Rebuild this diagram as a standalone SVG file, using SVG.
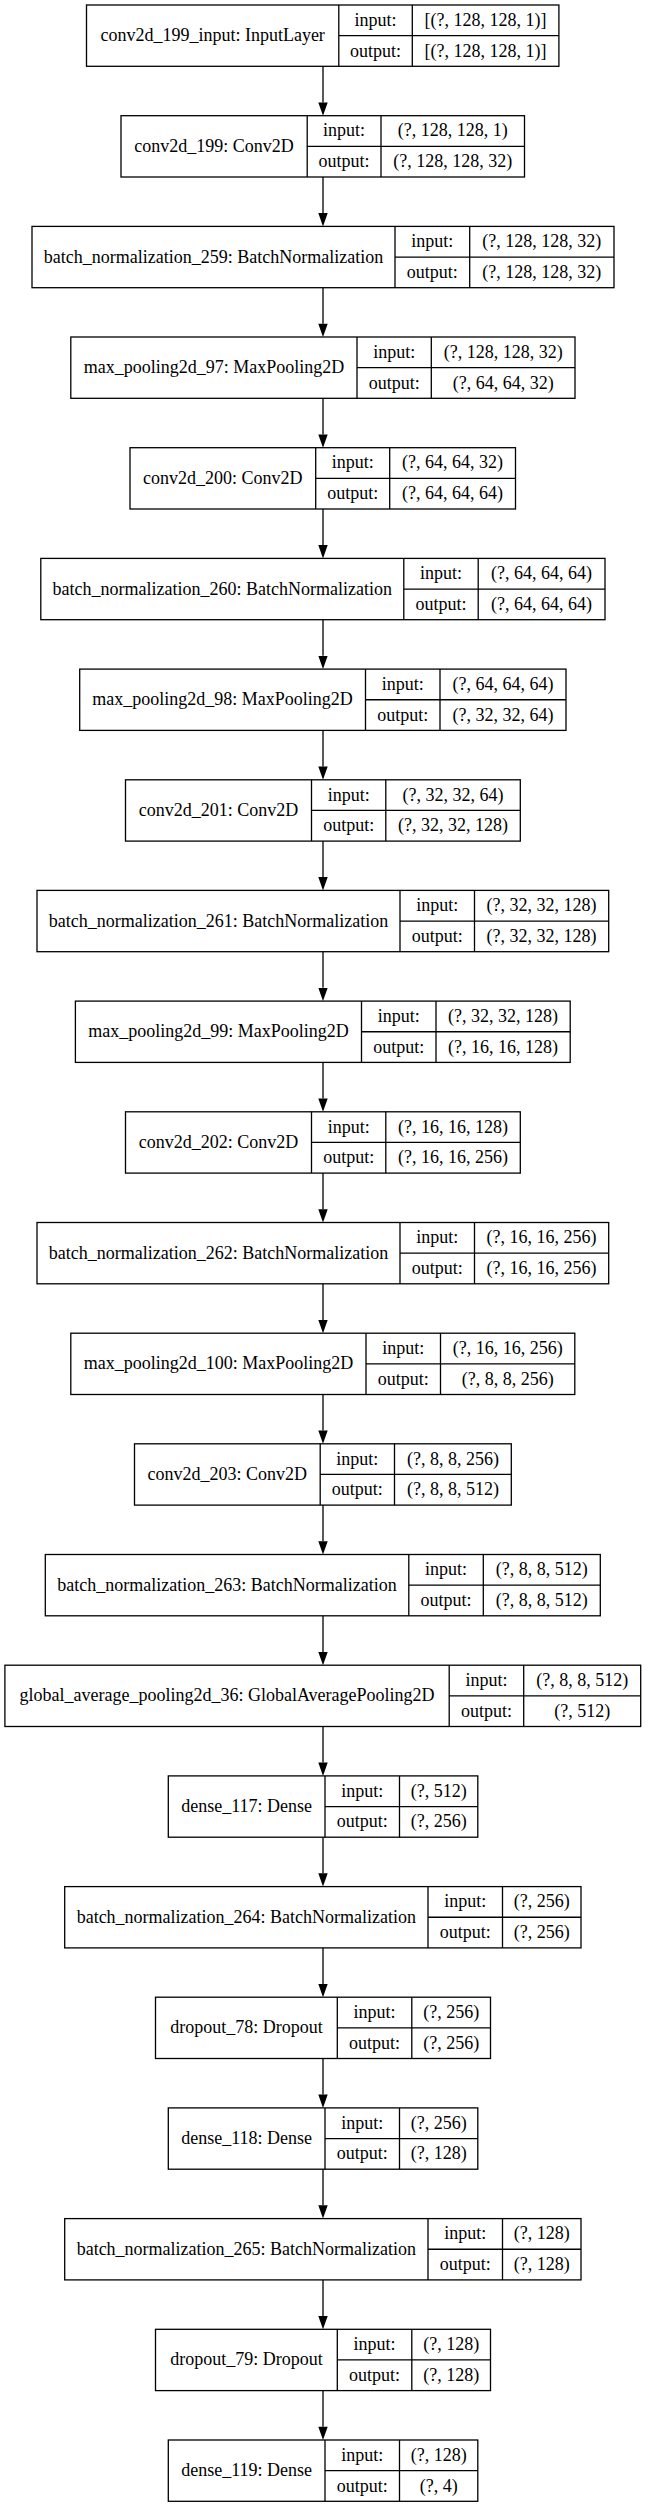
<svg xmlns="http://www.w3.org/2000/svg" width="648" height="2508" viewBox="0 0 648 2508">
<style>
.b{fill:#fff;stroke:#000;stroke-width:1.3}
.d{stroke:#000;stroke-width:1.3;fill:none}
text{font-family:"Liberation Serif","Times New Roman",serif;font-size:18px;fill:#000;text-anchor:middle}
.e{stroke:#000;stroke-width:1.3;fill:none;marker-end:url(#ah)}
</style>
<defs>
<marker id="ah" markerUnits="userSpaceOnUse" markerWidth="14" markerHeight="10" viewBox="0 0 13.5 10" refX="0" refY="5" orient="auto"><path d="M0,0.3 L13.3,5 L0,9.7 Z" fill="#000"/></marker>
</defs>
<rect width="648" height="2508" fill="#fff"/>
<g id="edges">
<line class="e" x1="323" y1="66.3" x2="323" y2="102.4"/>
<line class="e" x1="323" y1="177.0" x2="323" y2="213.1"/>
<line class="e" x1="323" y1="287.7" x2="323" y2="323.7"/>
<line class="e" x1="323" y1="398.3" x2="323" y2="434.4"/>
<line class="e" x1="323" y1="509.0" x2="323" y2="545.1"/>
<line class="e" x1="323" y1="619.7" x2="323" y2="655.8"/>
<line class="e" x1="323" y1="730.4" x2="323" y2="766.5"/>
<line class="e" x1="323" y1="841.1" x2="323" y2="877.1"/>
<line class="e" x1="323" y1="951.7" x2="323" y2="987.8"/>
<line class="e" x1="323" y1="1062.4" x2="323" y2="1098.5"/>
<line class="e" x1="323" y1="1173.1" x2="323" y2="1209.2"/>
<line class="e" x1="323" y1="1283.8" x2="323" y2="1319.9"/>
<line class="e" x1="323" y1="1394.5" x2="323" y2="1430.5"/>
<line class="e" x1="323" y1="1505.1" x2="323" y2="1541.2"/>
<line class="e" x1="323" y1="1615.8" x2="323" y2="1651.9"/>
<line class="e" x1="323" y1="1726.5" x2="323" y2="1762.6"/>
<line class="e" x1="323" y1="1837.2" x2="323" y2="1873.3"/>
<line class="e" x1="323" y1="1947.9" x2="323" y2="1983.9"/>
<line class="e" x1="323" y1="2058.5" x2="323" y2="2094.6"/>
<line class="e" x1="323" y1="2169.2" x2="323" y2="2205.3"/>
<line class="e" x1="323" y1="2279.9" x2="323" y2="2316.0"/>
<line class="e" x1="323" y1="2390.6" x2="323" y2="2426.7"/>
</g>
<g id="conv2d_199_input" transform="translate(0,5.0)">
<rect class="b" x="86.5" y="0" width="472.4" height="61.3"/>
<path class="d" d="M338.8,0V61.3M412.3,0V61.3M338.8,30.65H558.9"/>
<text x="212.65" y="36.15">conv2d_199_input: InputLayer</text>
<text x="375.55" y="20.8">input:</text><text x="375.55" y="51.5">output:</text>
<text x="485.6" y="20.8">[(?, 128, 128, 1)]</text><text x="485.6" y="51.5">[(?, 128, 128, 1)]</text>
</g>
<g id="conv2d_199" transform="translate(0,115.7)">
<rect class="b" x="121" y="0" width="403.5" height="61.3"/>
<path class="d" d="M307.2,0V61.3M381,0V61.3M307.2,30.65H524.5"/>
<text x="214.1" y="36.15">conv2d_199: Conv2D</text>
<text x="344.1" y="20.8">input:</text><text x="344.1" y="51.5">output:</text>
<text x="452.75" y="20.8">(?, 128, 128, 1)</text><text x="452.75" y="51.5">(?, 128, 128, 32)</text>
</g>
<g id="batch_normalization_259" transform="translate(0,226.4)">
<rect class="b" x="32" y="0" width="582" height="61.3"/>
<path class="d" d="M395,0V61.3M469.7,0V61.3M395,30.65H614"/>
<text x="213.5" y="36.15">batch_normalization_259: BatchNormalization</text>
<text x="432.35" y="20.8">input:</text><text x="432.35" y="51.5">output:</text>
<text x="541.85" y="20.8">(?, 128, 128, 32)</text><text x="541.85" y="51.5">(?, 128, 128, 32)</text>
</g>
<g id="max_pooling2d_97" transform="translate(0,337.0)">
<rect class="b" x="70.8" y="0" width="504.2" height="61.3"/>
<path class="d" d="M357,0V61.3M431.3,0V61.3M357,30.65H575"/>
<text x="213.9" y="36.15">max_pooling2d_97: MaxPooling2D</text>
<text x="394.15" y="20.8">input:</text><text x="394.15" y="51.5">output:</text>
<text x="503.15" y="20.8">(?, 128, 128, 32)</text><text x="503.15" y="51.5">(?, 64, 64, 32)</text>
</g>
<g id="conv2d_200" transform="translate(0,447.7)">
<rect class="b" x="130" y="0" width="385.5" height="61.3"/>
<path class="d" d="M315.7,0V61.3M389.7,0V61.3M315.7,30.65H515.5"/>
<text x="222.85" y="36.15">conv2d_200: Conv2D</text>
<text x="352.7" y="20.8">input:</text><text x="352.7" y="51.5">output:</text>
<text x="452.6" y="20.8">(?, 64, 64, 32)</text><text x="452.6" y="51.5">(?, 64, 64, 64)</text>
</g>
<g id="batch_normalization_260" transform="translate(0,558.4)">
<rect class="b" x="40.8" y="0" width="564.2" height="61.3"/>
<path class="d" d="M403.8,0V61.3M478.2,0V61.3M403.8,30.65H605"/>
<text x="222.3" y="36.15">batch_normalization_260: BatchNormalization</text>
<text x="441" y="20.8">input:</text><text x="441" y="51.5">output:</text>
<text x="541.6" y="20.8">(?, 64, 64, 64)</text><text x="541.6" y="51.5">(?, 64, 64, 64)</text>
</g>
<g id="max_pooling2d_98" transform="translate(0,669.1)">
<rect class="b" x="79.7" y="0" width="486.3" height="61.3"/>
<path class="d" d="M365.5,0V61.3M440,0V61.3M365.5,30.65H566"/>
<text x="222.6" y="36.15">max_pooling2d_98: MaxPooling2D</text>
<text x="402.75" y="20.8">input:</text><text x="402.75" y="51.5">output:</text>
<text x="503" y="20.8">(?, 64, 64, 64)</text><text x="503" y="51.5">(?, 32, 32, 64)</text>
</g>
<g id="conv2d_201" transform="translate(0,779.8)">
<rect class="b" x="125.5" y="0" width="394.8" height="61.3"/>
<path class="d" d="M311.5,0V61.3M385.8,0V61.3M311.5,30.65H520.3"/>
<text x="218.5" y="36.15">conv2d_201: Conv2D</text>
<text x="348.65" y="20.8">input:</text><text x="348.65" y="51.5">output:</text>
<text x="453.05" y="20.8">(?, 32, 32, 64)</text><text x="453.05" y="51.5">(?, 32, 32, 128)</text>
</g>
<g id="batch_normalization_261" transform="translate(0,890.4)">
<rect class="b" x="37" y="0" width="571.7" height="61.3"/>
<path class="d" d="M400,0V61.3M474.5,0V61.3M400,30.65H608.7"/>
<text x="218.5" y="36.15">batch_normalization_261: BatchNormalization</text>
<text x="437.25" y="20.8">input:</text><text x="437.25" y="51.5">output:</text>
<text x="541.6" y="20.8">(?, 32, 32, 128)</text><text x="541.6" y="51.5">(?, 32, 32, 128)</text>
</g>
<g id="max_pooling2d_99" transform="translate(0,1001.1)">
<rect class="b" x="75.4" y="0" width="494.8" height="61.3"/>
<path class="d" d="M361.5,0V61.3M436,0V61.3M361.5,30.65H570.2"/>
<text x="218.45" y="36.15">max_pooling2d_99: MaxPooling2D</text>
<text x="398.75" y="20.8">input:</text><text x="398.75" y="51.5">output:</text>
<text x="503.1" y="20.8">(?, 32, 32, 128)</text><text x="503.1" y="51.5">(?, 16, 16, 128)</text>
</g>
<g id="conv2d_202" transform="translate(0,1111.8)">
<rect class="b" x="125.5" y="0" width="394.8" height="61.3"/>
<path class="d" d="M311.5,0V61.3M385.8,0V61.3M311.5,30.65H520.3"/>
<text x="218.5" y="36.15">conv2d_202: Conv2D</text>
<text x="348.65" y="20.8">input:</text><text x="348.65" y="51.5">output:</text>
<text x="453.05" y="20.8">(?, 16, 16, 128)</text><text x="453.05" y="51.5">(?, 16, 16, 256)</text>
</g>
<g id="batch_normalization_262" transform="translate(0,1222.5)">
<rect class="b" x="37" y="0" width="571.7" height="61.3"/>
<path class="d" d="M400,0V61.3M474.5,0V61.3M400,30.65H608.7"/>
<text x="218.5" y="36.15">batch_normalization_262: BatchNormalization</text>
<text x="437.25" y="20.8">input:</text><text x="437.25" y="51.5">output:</text>
<text x="541.6" y="20.8">(?, 16, 16, 256)</text><text x="541.6" y="51.5">(?, 16, 16, 256)</text>
</g>
<g id="max_pooling2d_100" transform="translate(0,1333.2)">
<rect class="b" x="70.8" y="0" width="504" height="61.3"/>
<path class="d" d="M366,0V61.3M440.5,0V61.3M366,30.65H574.8"/>
<text x="218.4" y="36.15">max_pooling2d_100: MaxPooling2D</text>
<text x="403.25" y="20.8">input:</text><text x="403.25" y="51.5">output:</text>
<text x="507.65" y="20.8">(?, 16, 16, 256)</text><text x="507.65" y="51.5">(?, 8, 8, 256)</text>
</g>
<g id="conv2d_203" transform="translate(0,1443.8)">
<rect class="b" x="134.5" y="0" width="376.8" height="61.3"/>
<path class="d" d="M320.2,0V61.3M394.5,0V61.3M320.2,30.65H511.3"/>
<text x="227.35" y="36.15">conv2d_203: Conv2D</text>
<text x="357.35" y="20.8">input:</text><text x="357.35" y="51.5">output:</text>
<text x="452.9" y="20.8">(?, 8, 8, 256)</text><text x="452.9" y="51.5">(?, 8, 8, 512)</text>
</g>
<g id="batch_normalization_263" transform="translate(0,1554.5)">
<rect class="b" x="45.3" y="0" width="555" height="61.3"/>
<path class="d" d="M408.8,0V61.3M483.3,0V61.3M408.8,30.65H600.3"/>
<text x="227.05" y="36.15">batch_normalization_263: BatchNormalization</text>
<text x="446.05" y="20.8">input:</text><text x="446.05" y="51.5">output:</text>
<text x="541.8" y="20.8">(?, 8, 8, 512)</text><text x="541.8" y="51.5">(?, 8, 8, 512)</text>
</g>
<g id="global_average_pooling2d_36" transform="translate(0,1665.2)">
<rect class="b" x="4.9" y="0" width="635.8" height="61.3"/>
<path class="d" d="M449.2,0V61.3M523.7,0V61.3M449.2,30.65H640.7"/>
<text x="227.05" y="36.15">global_average_pooling2d_36: GlobalAveragePooling2D</text>
<text x="486.45" y="20.8">input:</text><text x="486.45" y="51.5">output:</text>
<text x="582.2" y="20.8">(?, 8, 8, 512)</text><text x="582.2" y="51.5">(?, 512)</text>
</g>
<g id="dense_117" transform="translate(0,1775.9)">
<rect class="b" x="168.3" y="0" width="309.5" height="61.3"/>
<path class="d" d="M325,0V61.3M399.5,0V61.3M325,30.65H477.8"/>
<text x="246.65" y="36.15">dense_117: Dense</text>
<text x="362.25" y="20.8">input:</text><text x="362.25" y="51.5">output:</text>
<text x="438.65" y="20.8">(?, 512)</text><text x="438.65" y="51.5">(?, 256)</text>
</g>
<g id="batch_normalization_264" transform="translate(0,1886.6)">
<rect class="b" x="64.7" y="0" width="516.3" height="61.3"/>
<path class="d" d="M428,0V61.3M502.5,0V61.3M428,30.65H581"/>
<text x="246.35" y="36.15">batch_normalization_264: BatchNormalization</text>
<text x="465.25" y="20.8">input:</text><text x="465.25" y="51.5">output:</text>
<text x="541.75" y="20.8">(?, 256)</text><text x="541.75" y="51.5">(?, 256)</text>
</g>
<g id="dropout_78" transform="translate(0,1997.2)">
<rect class="b" x="155.5" y="0" width="335" height="61.3"/>
<path class="d" d="M337.3,0V61.3M411.8,0V61.3M337.3,30.65H490.5"/>
<text x="246.4" y="36.15">dropout_78: Dropout</text>
<text x="374.55" y="20.8">input:</text><text x="374.55" y="51.5">output:</text>
<text x="451.15" y="20.8">(?, 256)</text><text x="451.15" y="51.5">(?, 256)</text>
</g>
<g id="dense_118" transform="translate(0,2107.9)">
<rect class="b" x="168.3" y="0" width="309.5" height="61.3"/>
<path class="d" d="M325,0V61.3M399.5,0V61.3M325,30.65H477.8"/>
<text x="246.65" y="36.15">dense_118: Dense</text>
<text x="362.25" y="20.8">input:</text><text x="362.25" y="51.5">output:</text>
<text x="438.65" y="20.8">(?, 256)</text><text x="438.65" y="51.5">(?, 128)</text>
</g>
<g id="batch_normalization_265" transform="translate(0,2218.6)">
<rect class="b" x="64.7" y="0" width="516.3" height="61.3"/>
<path class="d" d="M428,0V61.3M502.5,0V61.3M428,30.65H581"/>
<text x="246.35" y="36.15">batch_normalization_265: BatchNormalization</text>
<text x="465.25" y="20.8">input:</text><text x="465.25" y="51.5">output:</text>
<text x="541.75" y="20.8">(?, 128)</text><text x="541.75" y="51.5">(?, 128)</text>
</g>
<g id="dropout_79" transform="translate(0,2329.3)">
<rect class="b" x="155.5" y="0" width="335" height="61.3"/>
<path class="d" d="M337.3,0V61.3M411.8,0V61.3M337.3,30.65H490.5"/>
<text x="246.4" y="36.15">dropout_79: Dropout</text>
<text x="374.55" y="20.8">input:</text><text x="374.55" y="51.5">output:</text>
<text x="451.15" y="20.8">(?, 128)</text><text x="451.15" y="51.5">(?, 128)</text>
</g>
<g id="dense_119" transform="translate(0,2440.0)">
<rect class="b" x="168.3" y="0" width="309.5" height="61.3"/>
<path class="d" d="M325,0V61.3M399.5,0V61.3M325,30.65H477.8"/>
<text x="246.65" y="36.15">dense_119: Dense</text>
<text x="362.25" y="20.8">input:</text><text x="362.25" y="51.5">output:</text>
<text x="438.65" y="20.8">(?, 128)</text><text x="438.65" y="51.5">(?, 4)</text>
</g>
</svg>
